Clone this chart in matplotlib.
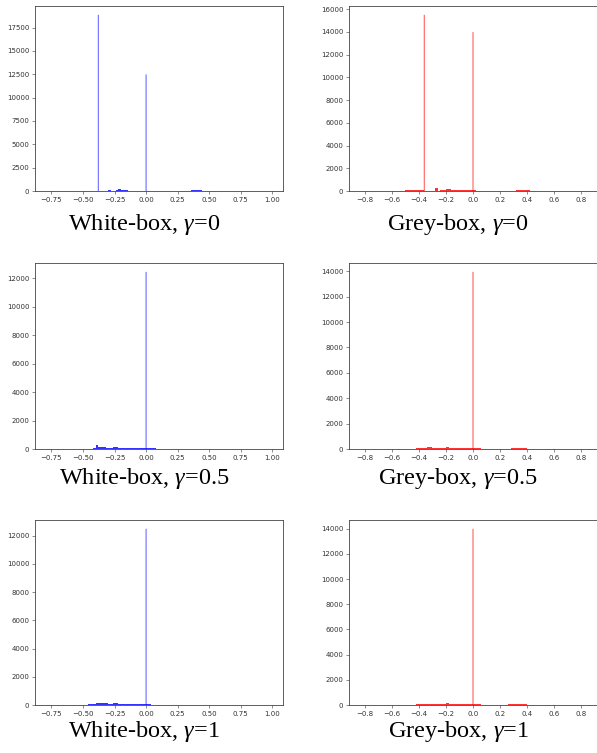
import numpy as np
import matplotlib
matplotlib.use("Agg")
import matplotlib.pyplot as plt
from matplotlib.ticker import MultipleLocator

plt.rcParams['mathtext.fontset'] = 'custom'
plt.rcParams['mathtext.rm'] = 'Liberation Serif'
plt.rcParams['mathtext.it'] = 'Liberation Serif:italic'

# tall spikes: positions and counts
wb0_spike_x = [-0.379, 0.0]
wb0_spike_h = [18860, 12480]
gb0_spike_x = [-0.36, 0.0]
gb0_spike_h = [15500, 13980]
wb05_spike_x = [0.0]
wb05_spike_h = [12450]
gb05_spike_x = [0.0]
gb05_spike_h = [13950]
wb1_spike_x = [0.0]
wb1_spike_h = [12480]
gb1_spike_x = [0.0]
gb1_spike_h = [14000]

# low-level counts, 0.02 wide bins starting at -0.50
low_start = -0.50
wb0_low = [40, 20, 10, 10, 10, 20, 20, 10, 20, 30, 60, 20, 50, 120, 210, 160, 90, 60,
           40, 40, 30, 30, 20, 20, 30, 30, 20, 10, 10, 10, 10, 10, 10, 10, 10, 10, 10,
           10, 10, 10, 10, 10, 40, 80, 90, 90, 60, 20, 10]
gb0_low = [80, 80, 80, 70, 80, 70, 60, 20, 20, 30, 40, 240, 40, 60, 100, 150, 140, 90,
           80, 80, 80, 70, 70, 60, 60, 50, 30, 20, 10, 10, 10, 10, 10, 10, 10, 10, 10,
           10, 10, 20, 20, 60, 70, 80, 70, 60, 30]
wb05_low = [10, 20, 30, 30, 40, 270, 170, 130, 110, 90, 70, 70, 150, 110, 80, 70, 60, 60,
            60, 60, 50, 50, 50, 60, 60, 50, 50, 40, 40, 30, 30, 30, 30, 30, 30, 30, 30,
            30, 30, 30, 30, 30, 30, 30, 30, 30, 30, 30, 20]
gb05_low = [10, 10, 20, 30, 40, 50, 60, 80, 180, 120, 90, 70, 60, 60, 60, 150, 100, 70,
            60, 60, 60, 60, 60, 60, 60, 50, 40, 40, 30, 30, 20, 20, 20, 20, 20, 20, 30,
            30, 30, 40, 40, 40, 50, 50, 40, 30, 20]
wb1_low = [20, 30, 40, 40, 40, 150, 140, 130, 120, 110, 100, 100, 120, 170, 90, 70, 60, 60,
           60, 60, 60, 60, 50, 50, 50, 40, 40, 30, 30, 30, 30, 30, 30, 30, 30, 30, 30, 30,
           30, 30, 30, 30, 30, 30, 30, 30, 30, 30, 30, 30, 20]
gb1_low = [10, 10, 20, 30, 40, 50, 60, 80, 90, 90, 90, 90, 80, 80, 100, 150, 110, 70,
           60, 60, 60, 60, 60, 60, 60, 50, 40, 40, 30, 20, 20, 20, 20, 20, 20, 20, 30,
           30, 40, 40, 50, 50, 50, 50, 40, 30, 20]

titles = [r"White-box, $\mathit{\gamma}$=0", r"Grey-box, $\mathit{\gamma}$=0",
          r"White-box, $\mathit{\gamma}$=0.5", r"Grey-box, $\mathit{\gamma}$=0.5",
          r"White-box, $\mathit{\gamma}$=1", r"Grey-box, $\mathit{\gamma}$=1"]

panels = [
    (wb0_spike_x, wb0_spike_h, wb0_low, 'blue', 2500),
    (gb0_spike_x, gb0_spike_h, gb0_low, 'red', 2000),
    (wb05_spike_x, wb05_spike_h, wb05_low, 'blue', 2000),
    (gb05_spike_x, gb05_spike_h, gb05_low, 'red', 2000),
    (wb1_spike_x, wb1_spike_h, wb1_low, 'blue', 2000),
    (gb1_spike_x, gb1_spike_h, gb1_low, 'red', 2000),
]

W, H = 597, 753
fig = plt.figure(figsize=(W / 100, H / 100), dpi=100)

rows_px = [(6, 191), (263, 449), (520, 705)]
cols_px = [(35, 283), (349, 600)]
title_x = [144, 458]
title_y = [230, 484, 737]

for i, (sx, sh, low, col, ystep) in enumerate(panels):
    r, c = divmod(i, 2)
    top, bot = rows_px[r]
    lft, rgt = cols_px[c]
    ax = fig.add_axes([lft / W, 1 - bot / H, (rgt - lft) / W, (bot - top) / H])
    centers = low_start + 0.01 + 0.02 * np.arange(len(low))
    ax.bar(centers, low, width=0.02, color=col, alpha=0.8, linewidth=0)
    ax.bar(sx, sh, width=0.006, color=col, alpha=0.85, linewidth=0, snap=False)
    if c == 0:
        ax.set_xlim(-0.88, 1.085)
        ax.xaxis.set_major_locator(MultipleLocator(0.25))
        ax.xaxis.set_major_formatter(plt.FuncFormatter(lambda v, p: f"{v:.2f}".replace('-', '\u2212')))
    else:
        ax.set_xlim(-0.915, 0.937)
        ax.xaxis.set_major_locator(MultipleLocator(0.2))
        ax.xaxis.set_major_formatter(plt.FuncFormatter(lambda v, p: f"{v:.1f}".replace('-', '\u2212')))
    ax.yaxis.set_major_locator(MultipleLocator(ystep))
    ax.set_ylim(0, max(sh) * 1.05)
    ax.tick_params(labelsize=5, length=2, width=0.4, pad=2, colors='#333333')
    for s in ax.spines.values():
        s.set_linewidth(0.6)
        s.set_color('#444444')
    fig.text(title_x[c] / W, 1 - title_y[r] / H, titles[i], fontsize=17.5,
             family='Liberation Serif', ha='center', va='baseline')

fig.savefig("out.png", dpi=100)
